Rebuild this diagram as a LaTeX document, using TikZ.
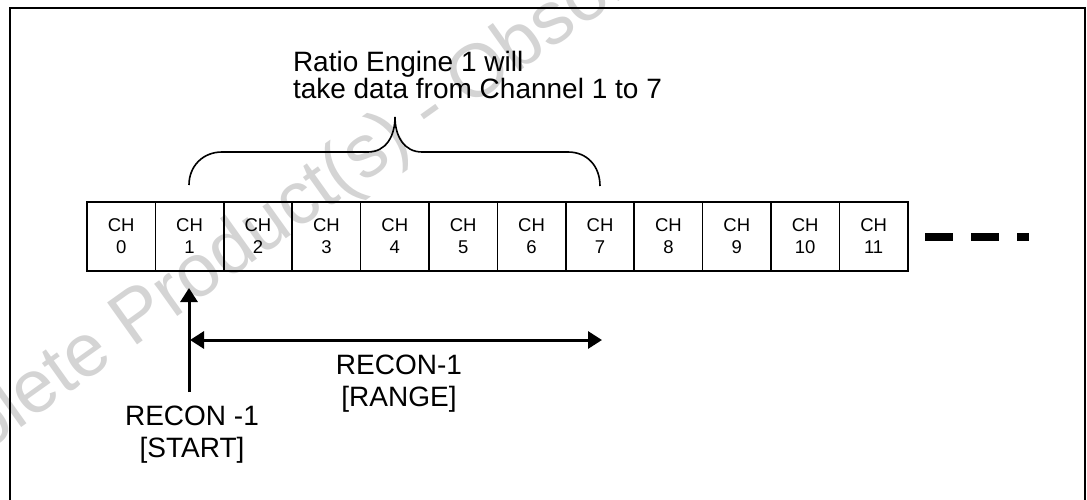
\documentclass[tikz,border=0pt]{standalone}
\usepackage{fontspec}
\setmainfont{Liberation Sans}
\usetikzlibrary{arrows.meta}
\begin{document}
\begin{tikzpicture}[x=1pt,y=-1pt,
  cell/.style={draw, line width=1.6pt, minimum width=68.4pt, minimum height=69pt,
    inner sep=0pt, outer sep=0pt, align=center, font=\fontsize{18.5}{22}\selectfont},
  big/.style={font=\fontsize{28}{33}\selectfont, inner sep=0pt, outer sep=0pt},
  arr/.style={line width=3pt, -{Triangle[length=14pt,width=17pt]}},
  darr/.style={line width=3pt, {Triangle[length=14pt,width=17pt]}-{Triangle[length=14pt,width=17pt]}},
  bracepath/.style={line width=1.6pt},
  wmark/.style={text=black!17, font=\fontsize{75}{75}\selectfont, inner sep=0pt},
  dashbar/.style={fill=black, draw=none}
]
\useasboundingbox (0,0) rectangle (1087,500);
\clip (0,0) rectangle (1087,500);
% watermark
\node[wmark, rotate=35.5] (wm) at (430,112) {Obsolete Product(s) - Obsolete Product(s)};
% frame
\draw[line width=2.5pt] (10,520) -- (10,8) -- (1085,8) -- (1085,520);
% cells
\foreach \i in {0,...,11} {
  \node[cell] (c\i) at ({87+68.4*(\i+0.5)},236.5) {CH\\\i};
}
% continuation dashes
\fill[dashbar] (925,233) rectangle (953,241);
\fill[dashbar] (971,233) rectangle (999,241);
\fill[dashbar] (1017,233) rectangle (1029,241);
% brace
\draw[bracepath] (189,185) .. controls (189,166) and (203,152) .. (222,152)
  -- (368,152) .. controls (386,152) and (395,136) .. (395,117)
  .. controls (395,136) and (404,152) .. (422,152)
  -- (568,152) .. controls (587,152) and (600,166) .. (600,186);
% brace label
\node[big, anchor=base west] (lbl1) at (293,72) {Ratio Engine 1 will};
\node[big, anchor=base west] (lbl2) at (293,98.5) {take data from Channel 1 to 7};
% arrows
\coordinate (vbot) at (189,392);
\coordinate (vtop) at (189,288);
\coordinate (hl) at (190,340);
\coordinate (hr) at (602,340);
\draw[arr] (vbot) -- (vtop);
\draw[darr] (hl) -- (hr);
% labels
\node[big, anchor=base] (st1) at (192,425) {RECON -1};
\node[big, anchor=base] (st2) at (192,457) {[START]};
\node[big, anchor=base] (rg1) at (399,374) {RECON-1};
\node[big, anchor=base] (rg2) at (399,406) {[RANGE]};
\end{tikzpicture}
\end{document}
